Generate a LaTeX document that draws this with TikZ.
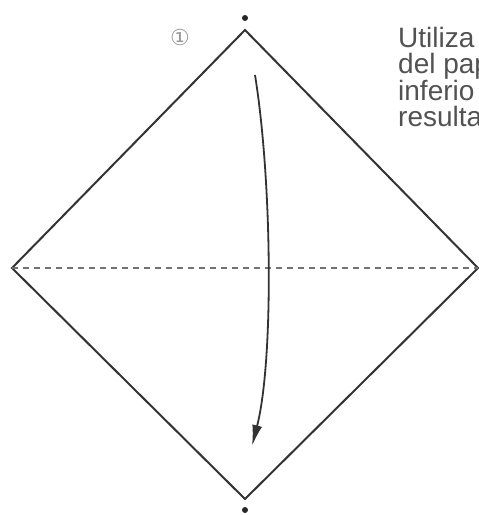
\documentclass[tikz,border=0pt]{standalone}
\usepackage{fontspec}
\setmainfont{Liberation Sans}
\newfontfamily\symfont{DejaVu Sans}
\usetikzlibrary{arrows.meta}

\begin{document}
\begin{tikzpicture}[x=1pt,y=-1pt,>=Latex,
    fold/.style={line width=2pt,black!80},
    valley/.style={line width=1.7pt,black!55,dash pattern=on 6pt off 5pt},
    tip/.style={circle,fill=black!85,inner sep=0pt,minimum size=6pt},
    caption/.style={anchor=base west,inner sep=0pt,text=black!68,font=\fontsize{28}{26}\selectfont}]
  \useasboundingbox (0,0) rectangle (479,515);
  \clip (0,0) rectangle (479,515);
  % square of paper, standing on a corner
  \coordinate (top) at (245,30);
  \coordinate (left) at (12,268);
  \coordinate (right) at (478,268);
  \coordinate (bottom) at (245,499);
  \draw[fold,line join=miter] (top) -- (right) -- (bottom) -- (left) -- cycle;
  \draw[valley] (left) -- (right);
  \node[tip] (topdot) at (245,18) {};
  \node[tip] (botdot) at (245,510) {};
  % fold top corner down
  \coordinate (from) at (255,75);
  \coordinate (to) at (252,446);
  \draw[line width=1.8pt,black!80,-{Latex[length=21pt,width=10pt]}]
    (from) .. controls (272,180) and (274,360) .. (to);
  \node[text=black!40,font=\symfont\fontsize{22}{22}\selectfont] (step1) at (180,37) {①};
  \node[caption] (line1) at (398,47) {Utiliza};
  \node[caption] (line2) at (398,73.5) {del pap};
  \node[caption] (line3) at (398,100) {inferio};
  \node[caption] (line4) at (398,126.5) {resulta};
\end{tikzpicture}
\end{document}
